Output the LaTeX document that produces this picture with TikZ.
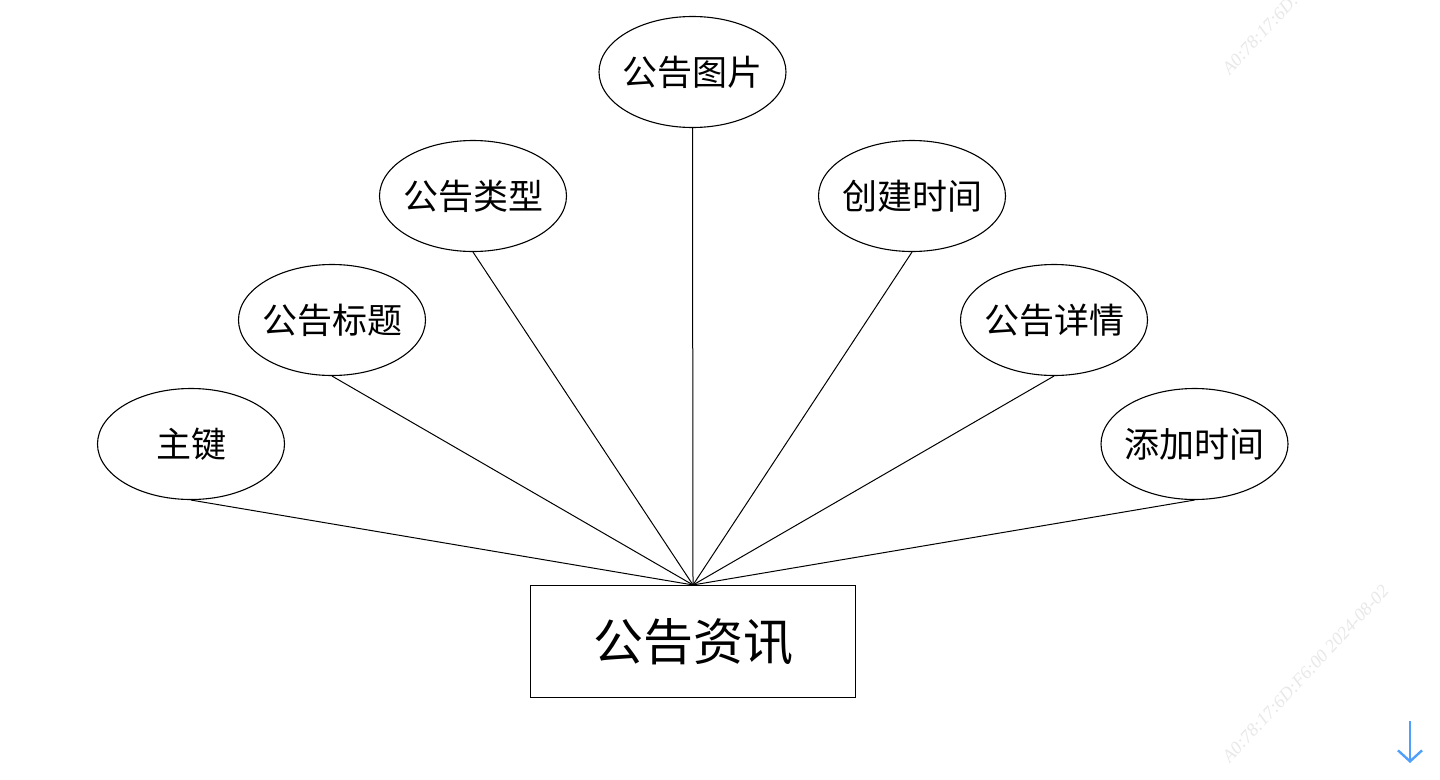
\documentclass[tikz,border=0pt]{standalone}
\usepackage{fontspec}
\newfontfamily\cjk{Noto Sans CJK SC}
\newfontfamily\wmfont{Liberation Serif}
\usetikzlibrary{shapes.geometric,arrows.meta}
\tikzset{
  attr/.style={ellipse, draw=black, line width=1.1pt, minimum width=187pt, minimum height=111pt, inner xsep=-18pt, inner ysep=0pt, font=\cjk\fontsize{35}{40}\selectfont},
  ent/.style={rectangle, draw=black, line width=1.1pt, minimum width=325pt, minimum height=112pt, inner sep=0pt, font=\cjk\fontsize{50}{58}\selectfont},
  link/.style={draw=black, line width=1pt},
  wm/.style={text=black!9, font=\wmfont\itshape\fontsize{18}{19}\selectfont, rotate=47, anchor=south west, inner sep=0pt}
}
\begin{document}
\begin{tikzpicture}[x=1pt,y=-1pt]
\useasboundingbox (0,0) rectangle (1440,779);
\clip (0,0) rectangle (1440,779);
\fill[white] (0,0) rectangle (1440,779);
% watermarks
\node[wm] (wm1) at (1230,76) {A0:78:17:6D:F6:00 2024-08-02};
\node[wm] (wm2) at (1230,764) {A0:78:17:6D:F6:00 2024-08-02};
% entity
\node[ent] (e) at (693,641.5) {公告资讯};
% attributes
\node[attr] (a1) at (692.5,72) {公告图片};
\node[attr] (a2) at (473,196) {公告类型};
\node[attr] (a3) at (912,196) {创建时间};
\node[attr] (a4) at (332,320) {公告标题};
\node[attr] (a5) at (1054,320) {公告详情};
\node[attr] (a6) at (191,444) {主键};
\node[attr] (a7) at (1194.5,444) {添加时间};
\foreach \a in {a1,a2,a3,a4,a5,a6,a7} {
  \draw[link] (\a.south) -- (e.north);
}
% scroll arrow
\coordinate (ar1) at (1410,721);
\coordinate (ar2) at (1410,763);
\draw[color={rgb,255:red,80;green,160;blue,250}, line width=2.4pt, -{Straight Barb[length=11pt,width=24pt,line width=2.4pt]}] (ar1) -- (ar2);
\end{tikzpicture}
\end{document}
